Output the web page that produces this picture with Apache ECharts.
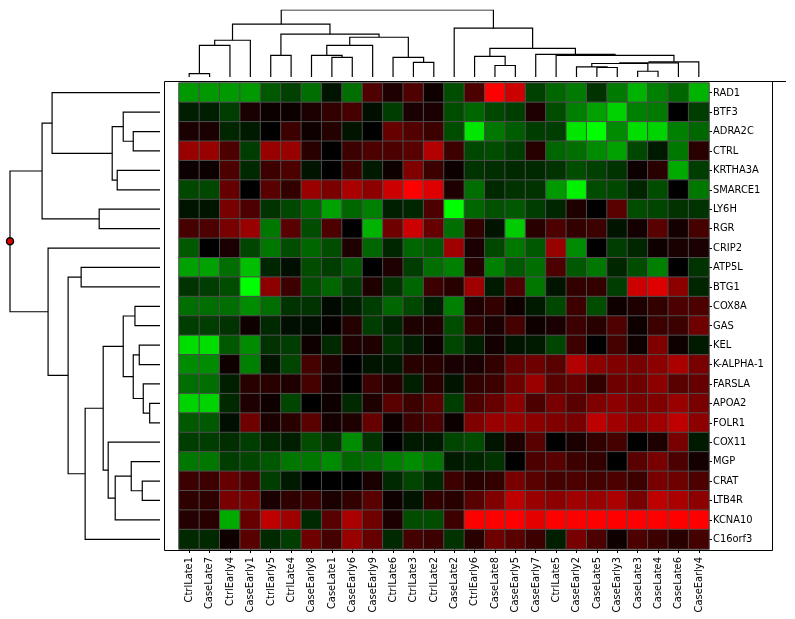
<!DOCTYPE html>
<html>
<head>
<meta charset="utf-8">
<title>Heatmap</title>
<script src="https://cdn.jsdelivr.net/npm/echarts/dist/echarts.min.js"></script>
<style>
    html, body { margin: 0; padding: 0; background: #ffffff; }
    #chart { width: 795px; height: 619px; }
</style>
</head>
<body>
<div id="chart"></div>
<script>
// gene names, top to bottom
var genes = ['RAD1', 'BTF3', 'ADRA2C', 'CTRL', 'KRTHA3A', 'SMARCE1', 'LY6H', 'RGR', 'CRIP2', 'ATP5L', 'BTG1', 'COX8A',
    'GAS', 'KEL', 'K-ALPHA-1', 'FARSLA', 'APOA2', 'FOLR1', 'COX11', 'MGP', 'CRAT', 'LTB4R', 'KCNA10', 'C16orf3'];

// samples, left to right
var samples = ['CtrlLate1', 'CaseLate7', 'CtrlEarly4', 'CaseEarly1', 'CtrlEarly5', 'CtrlLate4', 'CaseEarly8', 'CaseLate1',
    'CaseEarly6', 'CaseEarly9', 'CtrlLate6', 'CtrlLate3', 'CtrlLate2', 'CaseLate2', 'CtrlEarly6', 'CaseLate8', 'CaseEarly5',
    'CaseEarly7', 'CtrlLate5', 'CaseEarly2', 'CaseLate5', 'CaseEarly3', 'CaseLate3', 'CaseLate4', 'CaseLate6', 'CaseEarly4'];

// expression, one row per gene (negative = green, positive = red)
var expr = [
    [-0.6, -0.6, -0.6, -0.6, -0.35, -0.25, -0.43, -0.08, -0.43, 0.31, 0.12, 0.31, 0.06, -0.3, 0.3, 1.0, 0.8, -0.25, -0.4, -0.48, -0.2, -0.48, -0.7, -0.5, -0.4, -0.7],
    [-0.12, -0.12, -0.24, 0.1, 0.05, 0.05, 0.1, 0.2, 0.28, -0.06, -0.24, 0.1, 0.1, -0.3, -0.4, -0.28, -0.24, 0.12, -0.3, -0.5, -0.63, -0.82, -0.5, -0.48, 0, -0.24],
    [0.1, 0.1, -0.15, -0.1, 0, 0.24, 0.06, 0.14, -0.08, 0, 0.4, 0.32, 0.24, -0.3, -0.9, -0.47, -0.36, -0.24, -0.24, -0.9, -1.0, -0.55, -0.87, -0.83, -0.5, -0.4],
    [0.6, 0.6, 0.3, -0.24, 0.6, 0.6, 0.16, 0, 0.24, 0.3, 0.3, 0.35, 0.7, 0.24, -0.28, -0.3, -0.24, 0.15, -0.4, -0.43, -0.55, -0.63, -0.28, -0.1, -0.47, 0.16],
    [0.05, 0.05, 0.3, -0.16, 0.24, 0.3, -0.08, 0, 0.24, -0.1, 0.06, 0.5, 0.24, 0.05, -0.2, -0.18, -0.16, -0.16, -0.2, -0.3, -0.25, -0.2, 0.05, 0.16, -0.67, -0.24],
    [-0.28, -0.28, 0.4, 0, 0.35, 0.2, 0.6, 0.48, 0.67, 0.55, 0.8, 1.0, 0.87, 0.12, -0.43, -0.16, -0.2, -0.2, -0.6, -0.95, -0.3, -0.28, -0.15, -0.3, 0, -0.47],
    [-0.08, -0.08, 0.47, 0.3, -0.2, -0.28, -0.4, -0.63, -0.4, -0.5, -0.12, -0.15, 0.3, -1.0, -0.4, -0.32, -0.35, -0.24, -0.15, 0.12, 0, 0.35, -0.3, -0.27, -0.2, -0.2],
    [0.28, 0.3, 0.47, 0.6, -0.47, 0.35, -0.3, 0.3, 0, -0.7, 0.43, 0.8, 0.4, -0.43, 0.2, -0.08, -0.8, 0.16, 0.3, 0.2, 0.24, -0.08, 0.08, 0.35, 0.08, 0.28],
    [-0.35, 0, 0.1, -0.27, -0.47, -0.3, -0.4, -0.3, 0.12, -0.4, -0.15, -0.4, -0.35, 0.63, 0.1, -0.28, -0.47, -0.35, 0.6, -0.55, 0, -0.24, -0.15, 0.06, 0.1, 0.1],
    [-0.63, -0.63, -0.43, -0.75, -0.15, -0.06, -0.3, -0.24, -0.35, 0, 0.12, -0.24, -0.43, -0.5, 0.14, -0.5, -0.35, -0.43, 0.3, -0.35, -0.47, -0.15, -0.3, -0.5, 0, -0.2],
    [-0.2, -0.24, -0.3, -1.0, 0.55, 0.24, -0.3, -0.4, -0.24, 0.12, -0.2, -0.4, 0.24, 0.16, 0.63, -0.1, 0.3, -0.47, -0.08, 0.2, 0.2, -0.24, 0.8, 0.87, 0.55, -0.15],
    [-0.43, -0.43, -0.43, -0.55, -0.43, -0.2, -0.2, -0.04, -0.12, -0.24, -0.4, -0.28, -0.12, -0.5, 0.12, 0.2, 0.06, -0.1, -0.28, 0.24, -0.3, 0.06, 0.12, 0.2, 0.3, 0.3],
    [-0.24, -0.24, -0.2, 0.06, -0.16, -0.06, -0.06, 0.02, 0.14, -0.24, -0.14, 0.12, 0.12, -0.3, 0.2, 0.1, 0.27, 0.06, 0.1, 0.24, 0.16, 0.31, 0.06, 0.24, 0.24, 0.43],
    [-0.87, -0.87, -0.35, -0.55, -0.2, -0.24, 0.06, -0.16, 0.12, 0.12, -0.2, -0.12, 0.06, -0.27, -0.12, 0.08, -0.08, -0.1, -0.27, 0.24, 0, 0.27, 0.06, 0.5, 0.06, -0.1],
    [-0.55, -0.55, 0.06, -0.5, -0.08, -0.27, 0.27, 0.12, 0, -0.08, -0.1, 0.16, 0.16, 0.1, 0.1, 0.2, 0.4, 0.43, 0.35, 0.7, 0.55, 0.5, 0.47, 0.55, 0.67, 0.47],
    [-0.43, -0.43, -0.12, 0.16, 0.16, 0.12, 0.27, 0.08, 0, 0.24, 0.14, -0.12, 0.16, -0.08, 0.2, 0.24, 0.43, 0.6, 0.35, 0.4, 0.2, 0.43, 0.43, 0.55, 0.35, 0.4],
    [-0.83, -0.83, -0.16, 0.12, 0.06, -0.27, 0, 0.06, -0.16, 0.12, 0.35, 0.24, 0.35, -0.24, 0.3, 0.4, 0.55, 0.3, 0.47, 0.35, 0.5, 0.55, 0.47, 0.5, 0.6, 0.47],
    [-0.35, -0.35, -0.06, 0.43, 0.1, 0.16, 0.35, 0.08, 0.12, 0.4, 0.06, 0.24, 0.3, 0.05, 0.5, 0.6, 0.6, 0.55, 0.5, 0.47, 0.75, 0.63, 0.55, 0.63, 0.75, 0.55],
    [-0.24, -0.24, -0.18, -0.24, -0.16, -0.12, -0.3, -0.2, -0.55, -0.2, 0, -0.1, -0.1, -0.27, -0.3, -0.08, 0.12, 0.35, 0, 0.1, 0.2, 0.27, 0, 0.12, 0.47, -0.1],
    [-0.47, -0.47, -0.24, -0.27, -0.35, -0.47, -0.47, -0.55, -0.4, -0.43, -0.5, -0.55, -0.47, -0.1, -0.14, -0.2, 0, 0.3, 0.35, 0.24, 0.2, 0, 0.35, 0.47, 0.3, 0.08],
    [0.24, 0.24, 0.4, 0.3, -0.24, -0.1, 0, 0, 0, 0.1, -0.16, -0.27, -0.16, 0.24, 0.16, 0.2, 0.47, 0.35, 0.27, 0.3, 0.27, 0.3, 0.24, 0.47, 0.43, 0.3],
    [0.18, 0.18, 0.47, 0.47, 0.1, 0.18, 0.24, 0.1, 0.2, 0.35, 0.06, -0.08, 0.2, 0.16, 0.35, 0.5, 0.75, 0.6, 0.55, 0.63, 0.6, 0.67, 0.47, 0.75, 0.67, 0.55],
    [0.14, 0.16, -0.67, 0.4, 0.75, 0.63, -0.16, 0.35, 0.67, 0.43, 0.1, -0.3, -0.3, 0.24, 1, 1, 1, 0.9, 1, 1, 1, 1, 1, 1, 1, 1],
    [-0.16, -0.16, 0.06, 0.35, -0.16, -0.24, 0.43, 0.27, 0.6, 0.4, -0.16, 0.27, 0.24, -0.2, 0.16, 0.43, 0.35, 0.24, -0.12, 0.47, 0.3, 0.06, 0.3, 0.24, 0.16, 0.27]
];

// row clustering: [left, right, height]; a number is a gene index, 'm3' is merge no. 3
var geneMerges = [
    [2, 3, 26.7], [1, 'm0', 36.7], [4, 5, 42.7], ['m1', 'm2', 47.7], [0, 'm3', 107.7], [6, 7, 60.7],
    ['m4', 'm5', 117.7], [9, 10, 78.7], [11, 12, 25], [13, 14, 20.7], [16, 17, 10.3], [15, 'm10', 16.7],
    ['m9', 'm11', 26.7], ['m8', 'm12', 36.7], [20, 21, 17.7], [19, 'm14', 28.7], ['m15', 22, 44.7],
    [18, 'm16', 51.7], ['m13', 'm17', 56.7], ['m18', 23, 74.7], ['m7', 'm19', 91.7], [8, 'm20', 111.7],
    ['m6', 'm21', 149.7]
];

// column clustering, same layout
var sampleMerges = [
    [0, 1, 3.4], ['m0', 2, 31.4], ['m1', 3, 36.4], [4, 5, 21.4], [7, 8, 19.4], [6, 'm4', 21.4],
    ['m5', 9, 31.4], [11, 12, 14.4], [10, 'm7', 19.4], ['m6', 'm8', 39.4], ['m3', 'm9', 42.4],
    ['m2', 'm10', 52.4], [15, 16, 11.4], [14, 'm12', 20.4], [22, 23, 5.7], [20, 21, 9.4],
    [19, 'm15', 10], ['m16', 'm14', 13.4], ['m17', 24, 14], ['m18', 25, 15], [18, 'm19', 21.4],
    [17, 'm20', 22.4], ['m13', 'm21', 28.4], [13, 'm22', 48.4], ['m11', 'm23', 66.4]
];

(function () {

    var font = "'Liberation Sans Narrow', 'DejaVu Sans Condensed', 'Liberation Sans', sans-serif";

    // walk a merge list, give back the U shaped links and the root
    function dendro(merges) {
        var pos = [], hgt = [], links = [];
        function node(ref) {
            if (typeof ref === 'number') {
                return { p: ref, h: 0 };
            }
            var k = +ref.slice(1);
            return { p: pos[k], h: hgt[k] };
        }
        merges.forEach(function (m, k) {
            var a = node(m[0]), b = node(m[1]);
            pos[k] = (a.p + b.p) / 2;
            hgt[k] = m[2];
            links.push([[a.p, a.h], [a.p, m[2]], [b.p, m[2]], [b.p, b.h]]);
        });
        var last = merges.length - 1;
        return { links: links, root: [pos[last], hgt[last]] };
    }

    var rowTree = dendro(geneMerges);
    var colTree = dendro(sampleMerges);

    var cells = [];
    expr.forEach(function (row, r) {
        row.forEach(function (v, c) {
            cells.push([c, r, v]);
        });
    });

    // left tree is drawn sideways: [height, row]
    var rowLinks = rowTree.links.map(function (l) {
        return { coords: l.map(function (p) { return [p[1], p[0]]; }) };
    });
    var colLinks = colTree.links.map(function (l) {
        return { coords: l };
    });

    var myChart = echarts.init(document.getElementById('chart'));

    var option = {
        backgroundColor: '#ffffff',
        animation: false,
        grid: [
            { left: 179, top: 83, width: 530, height: 466 },            // heatmap
            { left: 10, top: 83, width: 150, height: 466 },             // gene tree
            { left: 179, top: 10, width: 530, height: 67 }              // sample tree
        ],
        xAxis: [{
            type: 'category',
            gridIndex: 0,
            data: samples,
            position: 'bottom',
            axisLine: { show: false },
            axisTick: { show: true, alignWithLabel: true, length: 4, lineStyle: { color: '#000' } },
            axisLabel: { rotate: 90, margin: 8, color: '#000', fontSize: 11, fontFamily: font, interval: 0 },
            splitLine: { show: false }
        }, {
            type: 'value',
            gridIndex: 1,
            min: 0,
            max: rowTree.root[1],
            inverse: true,
            show: false
        }, {
            type: 'value',
            gridIndex: 2,
            min: -0.5,
            max: samples.length - 0.5,
            show: false
        }],
        yAxis: [{
            type: 'category',
            gridIndex: 0,
            data: genes,
            inverse: true,
            position: 'right',
            axisLine: { show: false },
            axisTick: { show: true, alignWithLabel: true, length: 3, lineStyle: { color: '#000' } },
            axisLabel: { margin: 4, color: '#000', fontSize: 11, fontFamily: font, interval: 0 },
            splitLine: { show: false }
        }, {
            type: 'value',
            gridIndex: 1,
            min: -0.5,
            max: genes.length - 0.5,
            inverse: true,
            show: false
        }, {
            type: 'value',
            gridIndex: 2,
            min: 0,
            max: colTree.root[1],
            show: false
        }],
        visualMap: {
            show: false,
            seriesIndex: 0,
            min: -1,
            max: 1,
            inRange: { color: ['#00ff00', '#000000', '#ff0000'] }
        },
        graphic: [{
            type: 'polyline',
            silent: true,
            shape: { points: [[786, 81.5], [164.5, 81.5], [164.5, 550.5], [772.5, 550.5], [772.5, 81.5]] },
            style: { stroke: '#000', lineWidth: 1, fill: null }
        }],
        series: [{
            type: 'heatmap',
            xAxisIndex: 0,
            yAxisIndex: 0,
            data: cells,
            silent: true,
            itemStyle: { borderColor: '#4d4d4d', borderWidth: 1 }
        }, {
            type: 'lines',
            coordinateSystem: 'cartesian2d',
            xAxisIndex: 1,
            yAxisIndex: 1,
            polyline: true,
            silent: true,
            lineStyle: { color: '#000', width: 1.2, opacity: 1 },
            data: rowLinks
        }, {
            type: 'lines',
            coordinateSystem: 'cartesian2d',
            xAxisIndex: 2,
            yAxisIndex: 2,
            polyline: true,
            silent: true,
            lineStyle: { color: '#000', width: 1.2, opacity: 1 },
            data: colLinks
        }, {
            type: 'scatter',
            xAxisIndex: 1,
            yAxisIndex: 1,
            silent: true,
            symbol: 'circle',
            symbolSize: 7,
            itemStyle: { color: '#e00000', borderColor: '#000', borderWidth: 1.5, opacity: 1 },
            data: [[rowTree.root[1], rowTree.root[0]]]
        }]
    };

    myChart.setOption(option);
    window.addEventListener("resize", function () {
        myChart.resize();
    });
})();
</script>
</body>
</html>
